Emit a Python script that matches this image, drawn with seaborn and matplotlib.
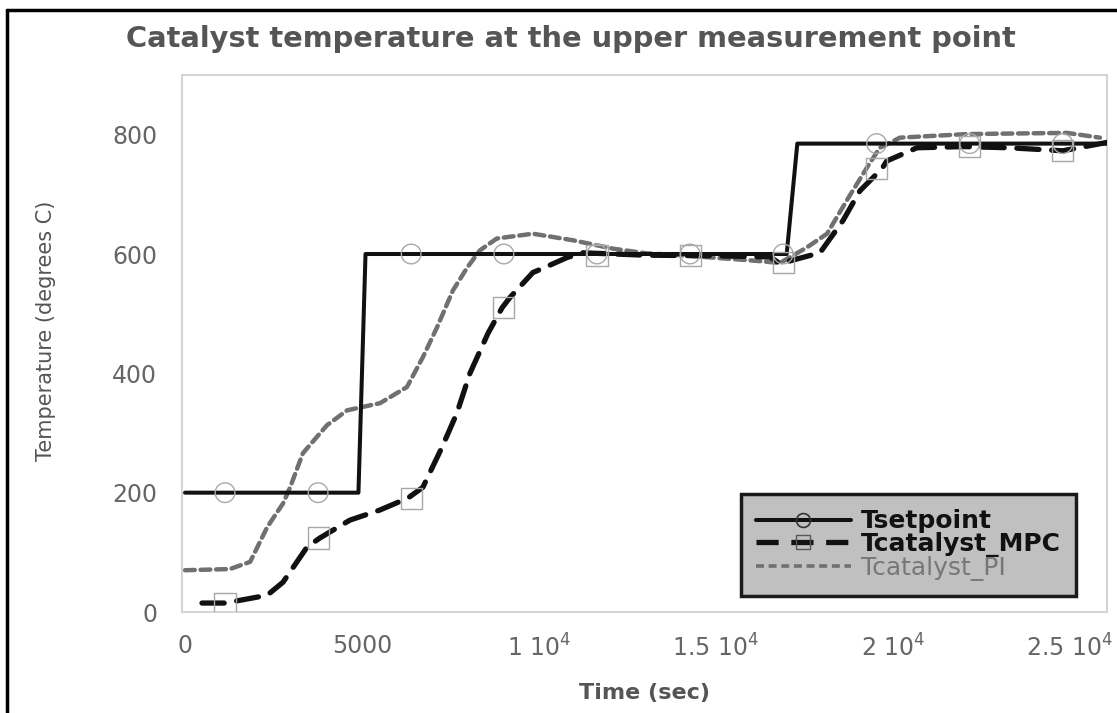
import matplotlib
matplotlib.use("Agg")
import matplotlib.pyplot as plt
from matplotlib.lines import Line2D
import seaborn as sns
import pandas as pd

# ---------------- data ----------------
setpoint_t = [0, 4900, 5100, 17000, 17300, 26050]
setpoint_T = [200, 200, 600, 600, 785, 785]

mpc_t = [480, 1130, 2320, 2770, 3450, 3810, 4660, 5510, 6300, 6720, 7260, 7680,
         8050, 8560, 8960, 9180, 9830, 10110, 10790, 11240, 13000, 15000, 16530,
         16810, 17940, 18590, 19070, 19690, 19830, 20680, 22000, 23300, 24800, 26050]
mpc_T = [15, 15, 28, 50, 109, 124, 154, 171, 191, 209, 276, 333,
         400, 467, 510, 527, 569, 576, 594, 602, 598, 597, 595,
         584, 602, 656, 706, 743, 756, 778, 780, 778, 773, 787]

pi_t = [0, 1270, 1840, 2320, 2770, 2970, 3330, 3530, 4010, 4580, 5510, 6270,
        6720, 7120, 7570, 7970, 8330, 8810, 9830, 10960, 12090, 13050, 13980,
        16050, 16810, 17570, 18140, 18700, 19270, 19630, 20200, 22090, 24920, 25850]
pi_T = [70, 72, 84, 142, 182, 209, 266, 280, 313, 338, 350, 377,
        427, 477, 539, 577, 606, 626, 634, 623, 609, 601, 598,
        589, 585, 611, 634, 690, 745, 778, 795, 801, 803, 795]

marker_t = [1130, 3760, 6390, 9010, 11640, 14270, 16900, 19540, 22170, 24800]
marker_setpoint = [200, 200, 600, 600, 600, 600, 600, 785, 785, 785]
marker_mpc = [15, 124, 191, 510, 598, 597, 586, 743, 780, 773]

x_ticks = [0, 5000, 10000, 15000, 20000, 25000]
x_ticklabels = ["0", "5000", "1 10$^4$", "1.5 10$^4$", "2 10$^4$", "2.5 10$^4$"]
y_ticks = [0, 200, 400, 600, 800]
y_ticklabels = ["0", "200", "400", "600", "800"]

labels = ["Tsetpoint", "Tcatalyst_MPC", "Tcatalyst_PI"]

# ---------------- figure ----------------
sns.set_style("white")
plt.rcParams["font.family"] = ["DejaVu Sans"]
plt.rcParams["mathtext.default"] = "regular"

fig = plt.figure(figsize=(11.17, 7.13), dpi=100)
ax = fig.add_axes([182 / 1117, 1 - 612 / 713, 925 / 1117, 537 / 713])

df_sp = pd.DataFrame({"t": setpoint_t, "T": setpoint_T})
df_mpc = pd.DataFrame({"t": mpc_t, "T": mpc_T})
df_pi = pd.DataFrame({"t": pi_t, "T": pi_T})

pi_color = "#707070"
sns.lineplot(data=df_pi, x="t", y="T", ax=ax, color=pi_color, linewidth=3.2,
             linestyle=(0, (2.2, 1.3)), dash_capstyle="round", sort=False,
             estimator=None, zorder=2)
sns.lineplot(data=df_sp, x="t", y="T", ax=ax, color="#111111", linewidth=2.9,
             sort=False, estimator=None, zorder=3)
sns.lineplot(data=df_mpc, x="t", y="T", ax=ax, color="#111111", linewidth=3.8,
             linestyle=(0, (4.2, 2.4)), dash_capstyle="round", sort=False,
             estimator=None, zorder=4)

# markers
sns.scatterplot(x=marker_t, y=marker_setpoint, ax=ax, marker="o", s=200,
                facecolor="none", edgecolor="#a8a8a8", linewidth=1.0, zorder=5)
sns.scatterplot(x=marker_t, y=marker_mpc, ax=ax, marker="s", s=230,
                facecolor="none", edgecolor="#a8a8a8", linewidth=1.0, zorder=5)

ax.set_xlim(-85, 26050)
ax.set_ylim(0, 900)
ax.set_xticks(x_ticks)
ax.set_xticklabels(x_ticklabels)
ax.set_yticks(y_ticks)
ax.set_yticklabels(y_ticklabels)
ax.tick_params(axis="both", length=0, labelcolor="#666666", labelsize=17)
ax.tick_params(axis="x", pad=16)
ax.tick_params(axis="y", pad=18)

for s in ax.spines.values():
    s.set_color("#d4d4d4")
    s.set_linewidth(1.5)

ax.set_xlabel("Time (sec)", fontsize=16, fontweight="bold", color="#555555")
ax.xaxis.set_label_coords(0.5005, -0.132)
ax.set_ylabel("Temperature (degrees C)", fontsize=15, color="#555555")
ax.yaxis.set_label_coords(-0.136, 0.523)

fig.text(571 / 1117, 1 - 39 / 713, "Catalyst temperature at the upper measurement point",
         ha="center", va="center", fontsize=20.8, fontweight="bold", color="#555555")

# legend
handles = [
    Line2D([], [], color="#111111", linewidth=2.9, marker="o", markersize=10,
           markerfacecolor="none", markeredgecolor="#333333", markeredgewidth=1.2),
    Line2D([], [], color="#111111", linewidth=3.8, linestyle=(0, (4.2, 2.4)),
           marker="s", markersize=10, markerfacecolor="none",
           markeredgecolor="#555555", markeredgewidth=1.0),
    Line2D([], [], color=pi_color, linewidth=2.6, linestyle=(0, (2.2, 1.3))),
]
leg = ax.legend(handles, labels, loc="lower right", bbox_to_anchor=(0.966, 0.03),
                fontsize=18, handlelength=3.8, handletextpad=0.4,
                labelspacing=-0.05, borderpad=0.6, frameon=True, fancybox=False,
                borderaxespad=0)
frame = leg.get_frame()
frame.set_facecolor("#c0c0c0")
frame.set_edgecolor("#1a1a1a")
frame.set_linewidth(2.5)
frame.set_alpha(1)
txts = leg.get_texts()
txts[0].set_fontweight("bold")
txts[0].set_color("#111111")
txts[1].set_fontweight("bold")
txts[1].set_color("#111111")
txts[2].set_color("#777777")

# outer black frame (partially clipped at right/bottom in the reference)
x0 = 7 / 1117
ytop = 1 - 10 / 713
fig.add_artist(Line2D([x0, x0], [0, ytop], transform=fig.transFigure,
                      color="black", linewidth=2.5))
fig.add_artist(Line2D([x0, 1], [ytop, ytop], transform=fig.transFigure,
                      color="black", linewidth=2.5))

fig.savefig("out.png", dpi=100)
